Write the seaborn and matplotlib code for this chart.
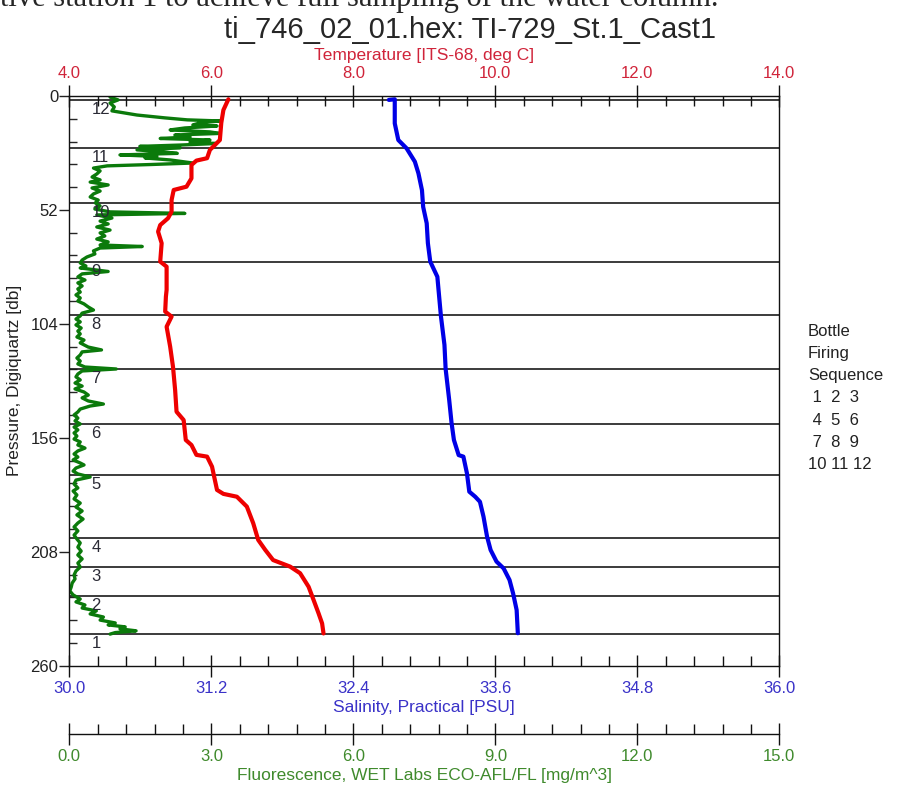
import numpy as np
import pandas as pd
import seaborn as sns
import matplotlib.pyplot as plt
from matplotlib.ticker import MultipleLocator, FormatStrFormatter

# CTD cast TI-729 St.1
# temperature profile
temp_p = [1.5, 6.4, 12.3, 20.1, 22.4, 24.6, 28.4, 29.5, 31.5, 37.6,
          41.4, 42.9, 47.5, 52.8, 55.8, 58.9, 61.9, 67.2, 75.6, 77.9,
          88.5, 91.6, 98.4, 100.7, 105.3, 114.4, 123.6, 134.2, 144.1, 147.9,
          157.0, 159.3, 163.8, 164.6, 169.2, 173.8, 179.8, 181.6, 182.9, 187.4,
          195.0, 202.6, 207.2, 211.8, 214.8, 217.8, 224.0, 230.0, 236.1, 240.7,
          245.3]
temp_t = [6.24, 6.17, 6.14, 6.12, 6.05, 5.98, 5.94, 5.79, 5.72, 5.72,
          5.65, 5.47, 5.44, 5.44, 5.39, 5.28, 5.25, 5.30, 5.28, 5.37,
          5.37, 5.36, 5.35, 5.44, 5.37, 5.42, 5.46, 5.49, 5.51, 5.61,
          5.64, 5.72, 5.79, 5.94, 6.01, 6.04, 6.08, 6.17, 6.36, 6.50,
          6.59, 6.66, 6.76, 6.87, 7.11, 7.25, 7.37, 7.44, 7.51, 7.56,
          7.58]

# salinity profile
sal_p = [1.8, 1.5, 12.5, 20.1, 23.9, 30.0, 35.3, 43.0, 50.6, 58.1,
         67.2, 75.6, 82.5, 88.5, 100.4, 113.6, 124.6, 138.7, 149.2, 157.0,
         163.9, 164.6, 172.2, 180.6, 182.9, 185.2, 192.0, 201.1, 207.2, 212.5,
         215.6, 220.9, 227.0, 234.6, 245.2]
sal_s = [32.70, 32.75, 32.75, 32.78, 32.85, 32.92, 32.95, 32.98, 32.99, 33.02,
         33.03, 33.05, 33.11, 33.12, 33.14, 33.17, 33.18, 33.21, 33.23, 33.25,
         33.29, 33.33, 33.36, 33.38, 33.43, 33.47, 33.50, 33.53, 33.56, 33.61,
         33.67, 33.72, 33.75, 33.78, 33.79]

# fluorescence profile
fl_p = [0.5, 1.8, 3.2, 5.0, 6.8, 8.7, 10.0, 10.9, 11.4, 12.3,
        13.2, 13.7, 14.6, 15.5, 16.4, 17.1, 17.8, 18.7, 19.4, 20.1,
        21.0, 21.7, 22.4, 23.0, 23.7, 24.2, 24.6, 25.6, 26.2, 26.9,
        27.6, 28.3, 29.2, 30.6, 31.3, 31.9, 32.9, 34.2, 35.6, 37.0,
        38.3, 39.3, 40.6, 42.0, 43.4, 44.7, 46.1, 47.5, 48.8, 50.2,
        51.6, 52.9, 53.6, 54.3, 55.7, 57.1, 58.4, 59.8, 61.2, 62.5,
        63.9, 65.3, 66.6, 68.0, 68.7, 69.4, 70.7, 72.1, 73.5, 74.9,
        76.2, 77.6, 78.5, 80.1, 81.2, 82.6, 84.0, 85.3, 86.7, 88.1,
        89.5, 90.8, 92.2, 93.6, 94.9, 96.3, 97.7, 99.1, 100.4, 101.8,
        103.1, 104.5, 105.9, 107.3, 108.6, 110.0, 111.4, 112.7, 114.6, 115.9,
        116.8, 118.2, 119.6, 121.0, 122.3, 123.7, 124.6, 125.5, 126.9, 128.2,
        129.6, 131.0, 132.4, 133.7, 135.1, 136.5, 137.8, 139.2, 140.6, 141.5,
        142.9, 144.2, 145.6, 147.0, 148.3, 149.7, 151.1, 152.4, 153.8, 155.2,
        156.6, 157.9, 159.3, 160.7, 162.0, 163.4, 164.8, 166.1, 167.5, 168.4,
        169.8, 171.2, 172.5, 173.9, 175.3, 177.1, 178.9, 180.3, 182.1, 183.9,
        185.8, 187.6, 189.4, 191.2, 193.1, 194.9, 196.7, 198.5, 200.4, 202.2,
        204.0, 205.9, 207.7, 209.5, 211.3, 213.2, 215.0, 216.8, 218.6, 220.4,
        222.3, 224.1, 225.9, 227.7, 229.6, 230.9, 232.3, 233.7, 235.0, 236.4,
        237.8, 239.2, 240.5, 241.4, 242.3, 243.2, 244.1, 244.9, 245.6]
fl_f = [0.86, 1.03, 0.86, 0.95, 0.90, 1.43, 2.02, 2.49, 3.18, 2.76,
        2.61, 3.12, 2.44, 2.13, 2.97, 3.18, 2.23, 2.55, 1.92, 2.97,
        2.55, 3.10, 2.34, 1.49, 2.34, 1.81, 1.43, 2.02, 2.28, 1.07,
        1.85, 1.60, 2.13, 2.61, 1.70, 0.80, 0.51, 0.65, 0.58, 0.48,
        0.65, 0.44, 0.82, 0.48, 0.65, 0.51, 0.44, 0.61, 0.55, 0.65,
        0.54, 0.86, 2.44, 0.58, 0.90, 0.65, 0.82, 0.58, 0.86, 0.65,
        0.75, 0.58, 0.82, 0.65, 1.54, 0.65, 0.51, 0.54, 0.37, 0.27,
        0.23, 0.35, 0.23, 0.82, 0.27, 0.18, 0.33, 0.18, 0.27, 0.18,
        0.23, 0.14, 0.23, 0.18, 0.31, 0.40, 0.51, 0.27, 0.23, 0.14,
        0.23, 0.14, 0.25, 0.18, 0.23, 0.16, 0.31, 0.23, 0.40, 0.68,
        0.27, 0.23, 0.16, 0.23, 0.18, 0.33, 0.99, 0.27, 0.18, 0.14,
        0.23, 0.12, 0.27, 0.12, 0.31, 0.40, 0.27, 0.40, 0.72, 0.44,
        0.23, 0.18, 0.10, 0.18, 0.12, 0.23, 0.10, 0.18, 0.10, 0.16,
        0.10, 0.23, 0.18, 0.33, 0.18, 0.10, 0.18, 0.08, 0.23, 0.31,
        0.14, 0.08, 0.18, 0.44, 0.14, 0.10, 0.18, 0.08, 0.16, 0.10,
        0.23, 0.14, 0.27, 0.16, 0.29, 0.18, 0.10, 0.18, 0.10, 0.16,
        0.23, 0.18, 0.25, 0.18, 0.27, 0.18, 0.23, 0.14, 0.10, 0.12,
        0.06, 0.04, 0.01, 0.08, 0.23, 0.14, 0.33, 0.27, 0.57, 0.44,
        0.72, 0.65, 0.97, 0.82, 1.18, 1.07, 1.41, 0.97, 0.86]

# bottle firing pressures (bottle 1 deepest)
bottle_ids = [1, 2, 3, 4, 5, 6, 7, 8, 9, 10, 11, 12]
bottle_p = [245.5, 228.2, 214.8, 201.9, 173.0, 149.6, 124.5, 100.1, 75.9, 49.0, 23.9, 1.8]

legend_lines = ["Bottle", "Firing", "Sequence", " 1  2  3", " 4  5  6", " 7  8  9", "10 11 12"]

title = "ti_746_02_01.hex: TI-729_St.1_Cast1"
caption = "tive station 1 to achieve full sampling of the water column."

c_temp, c_sal, c_fl = "#ee0000", "#0000e6", "#0b7a0b"
c_temp_txt, c_sal_txt, c_fl_txt = "#d0243a", "#3a32c8", "#3f8a2c"

sns.set_style("ticks")
plt.rcParams['font.family'] = ['Liberation Sans', 'DejaVu Sans']

fig = plt.figure(figsize=(9.04, 7.86), dpi=100)
ax = fig.add_axes([0.0767, 0.1531, 0.7854, 0.7248])   # fluorescence + pressure
ax_s = ax.twiny()                                      # salinity (bottom)
ax_t = ax.twiny()                                      # temperature (top)

# bottle lines
for n, p in zip(bottle_ids, bottle_p):
    ax.axhline(p, color="#1a1a1a", lw=1.2, zorder=1)
    ax.annotate(str(n), xy=(0.031, p), xycoords=ax.get_yaxis_transform(),
                xytext=(0, -1.5), textcoords="offset points",
                ha="left", va="top", fontsize=12, color="#2a2a35")

sns.lineplot(x=fl_f, y=fl_p, sort=False, estimator=None, ax=ax,
             color=c_fl, lw=2.4, zorder=2)
sns.lineplot(x=temp_t, y=temp_p, sort=False, estimator=None, ax=ax_t,
             color=c_temp, lw=3)
sns.lineplot(x=sal_s, y=sal_p, sort=False, estimator=None, ax=ax_s,
             color=c_sal, lw=3)

ax.set_ylim(260, 0)
ax.set_xlim(0, 15)
ax_s.set_xlim(30, 36)
ax_t.set_xlim(4, 14)

# pressure axis
ax.yaxis.set_major_locator(MultipleLocator(52))
ax.yaxis.set_minor_locator(MultipleLocator(10.4))
ax.tick_params(axis="y", which="major", direction="out", length=7, width=1,
               labelsize=12, pad=1, colors="#222222")
ax.tick_params(axis="y", which="minor", direction="in", length=6, width=1)
ax.set_ylabel("Pressure, Digiquartz [db]", fontsize=12.5, labelpad=6, color="#222222")

# x axes: locators, formats and tick styles
for a, step, minor, col in [(ax, 3, 0.6, c_fl_txt), (ax_s, 1.2, 0.24, c_sal_txt),
                            (ax_t, 2, 0.4, c_temp_txt)]:
    a.xaxis.set_major_locator(MultipleLocator(step))
    a.xaxis.set_minor_locator(MultipleLocator(minor))
    a.xaxis.set_major_formatter(FormatStrFormatter("%.1f"))
    a.tick_params(axis="x", which="major", direction="inout", length=16, width=1,
                  labelsize=12, pad=3, labelcolor=col, color="#111111")
    a.tick_params(axis="x", which="minor", direction="in", length=7, width=1,
                  color="#111111")
    for s in a.spines.values():
        s.set_visible(False)
        s.set_linewidth(1)
        s.set_color("#111111")

ax.xaxis.tick_bottom()
ax.spines["left"].set_visible(True)
ax.spines["right"].set_visible(True)
ax.spines["bottom"].set_visible(True)
ax.spines["bottom"].set_position(("outward", 49))
ax_s.xaxis.tick_bottom()
ax_s.xaxis.set_label_position("bottom")
ax_s.spines["bottom"].set_visible(True)
ax_t.xaxis.tick_top()
ax_t.spines["top"].set_visible(True)
ax.tick_params(axis="y", right=False)

ax.set_xlabel("Fluorescence, WET Labs ECO-AFL/FL [mg/m^3]", fontsize=12.5,
              color=c_fl_txt, labelpad=3)
ax_s.set_xlabel("Salinity, Practical [PSU]", fontsize=12.5, color=c_sal_txt, labelpad=3)
ax_t.set_xlabel("Temperature [ITS-68, deg C]", fontsize=12.5, color=c_temp_txt, labelpad=4)

fig.text(470 / 904, 1 - 30 / 786, title, ha="center", va="center", fontsize=21)
fig.text(0.0, 1 - 6 / 786, caption, ha="left", va="baseline", fontsize=22,
         family=["Liberation Serif", "DejaVu Serif"])

for i, line in enumerate(legend_lines):
    fig.text(808 / 904, 1 - (331 + 22.3 * i) / 786, line, ha="left", va="center",
             fontsize=12, color="#222222")

fig.savefig("out.png", dpi=100)
